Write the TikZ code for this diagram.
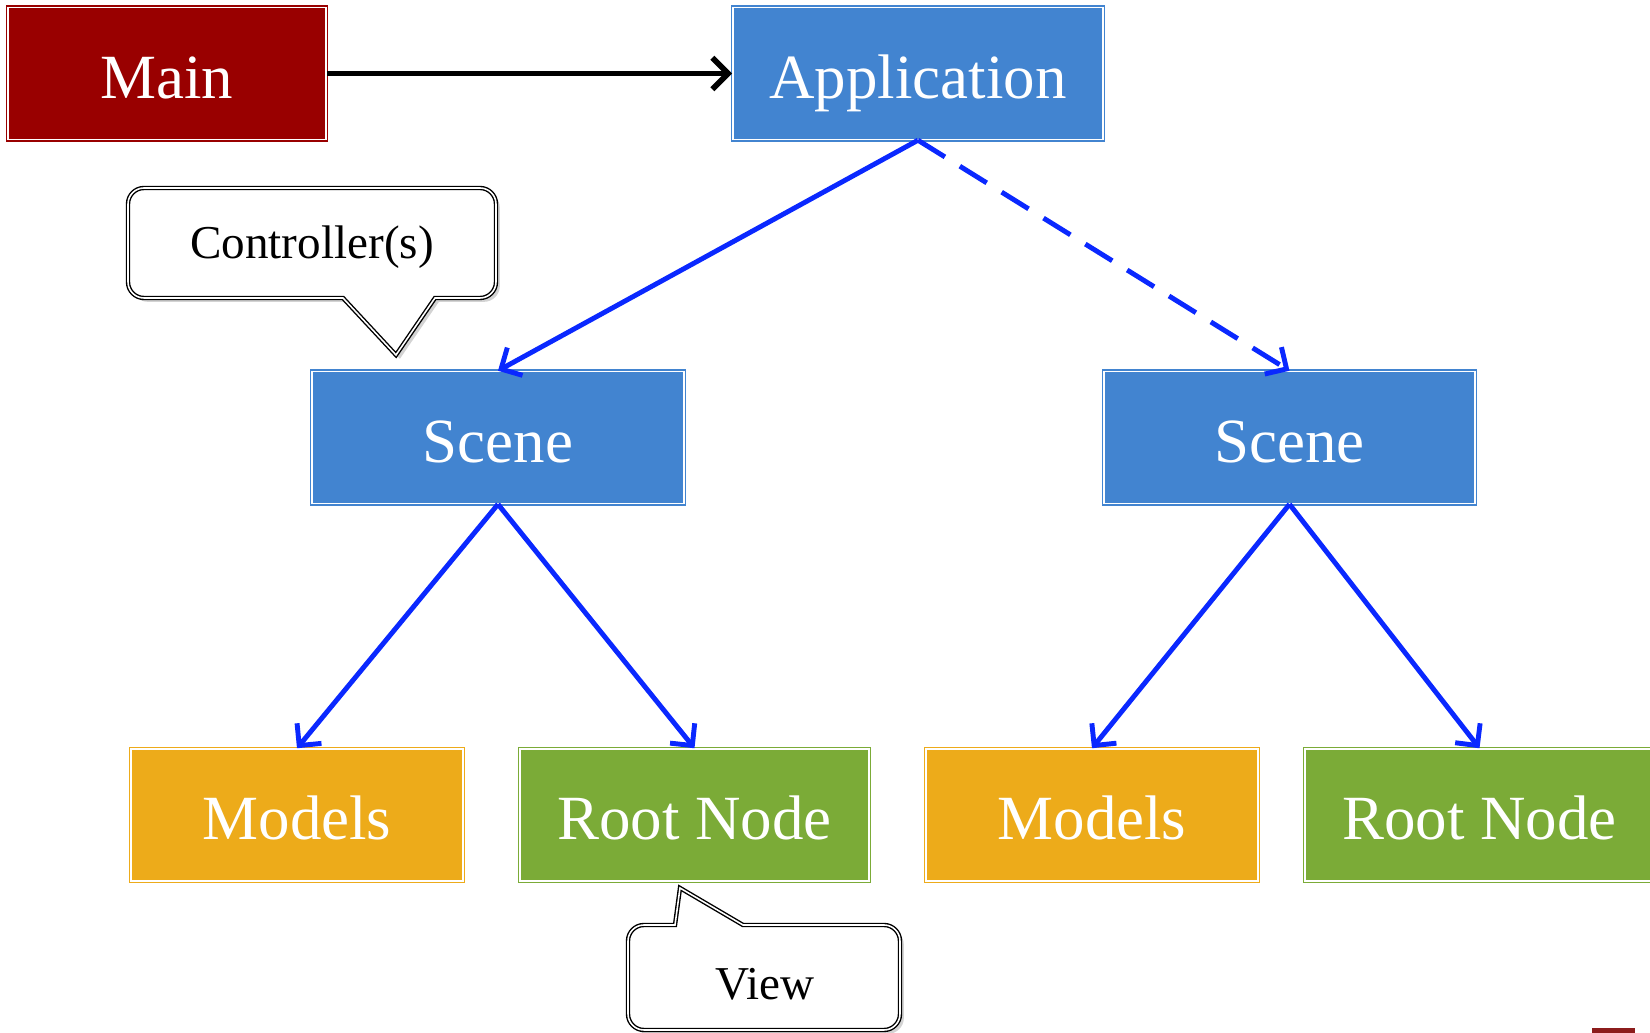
\documentclass[tikz,border=0pt]{standalone}
\usepackage{fontspec}
\setmainfont{Liberation Serif}
\usetikzlibrary{arrows.meta}
\usetikzlibrary{shadows}

\definecolor{mainred}{RGB}{153,0,0}
\definecolor{sceneblue}{RGB}{66,132,208}
\definecolor{modelorange}{RGB}{237,171,26}
\definecolor{rootgreen}{RGB}{123,171,55}
\definecolor{linkblue}{RGB}{10,40,255}
\definecolor{barred}{RGB}{140,28,28}

\tikzset{
	box/.style={rectangle, inner sep=0pt, minimum height=1.32cm, text=white,
		font=\fontsize{17.9pt}{20pt}\selectfont, text height=0.62cm, text depth=0.13cm,
		line width=0.4pt, double=white, double distance=0.4pt},
	mainbox/.style={box, fill=mainred, draw=mainred},
	scenebox/.style={box, fill=sceneblue, draw=sceneblue},
	modelbox/.style={box, fill=modelorange, draw=modelorange},
	rootbox/.style={box, fill=rootgreen, draw=rootgreen},
	flow/.style={line width=1.6pt, -{Straight Barb[length=4.5pt,width=9pt]}},
	link/.style={line width=1.4pt, draw=linkblue, -{Straight Barb[length=4.5pt,width=9pt]}},
	callout/.style={draw=black, fill=white, line width=0.4pt, double=white,
		double distance=0.45pt,
		drop shadow={shadow xshift=1.1pt, shadow yshift=-1.1pt, opacity=0.35}},
	calltext/.style={inner sep=0pt, font=\fontsize{13.4pt}{16pt}\selectfont}
}

\begin{document}
\begin{tikzpicture}[x=0.01cm, y=0.01cm]
	\useasboundingbox (0,0) rectangle (1650,1033);

	% draw callouts
	\draw[callout] (396,678) -- (435,735) [rounded corners=0.16cm] -- (496,735) -- (496,845)
		-- (128,845) -- (128,735) [sharp corners] -- (343,735) -- cycle;
	\draw[callout] (680,145) -- (743,108) [rounded corners=0.16cm] -- (900,108) -- (900,3)
		-- (628,3) -- (628,108) [sharp corners] -- (675,108) -- cycle;
	\node[calltext] (ctrl) at (312,786) {Controller(s)};
	\node[calltext] (view) at (765,49) {View};

	% draw boxes
	\node[mainbox, minimum width=3.18cm] (main) at (167,959.5) {Main};
	\node[scenebox, minimum width=3.70cm] (app) at (918,959.5) {Application};
	\node[scenebox, minimum width=3.72cm] (sceneL) at (498,595.5) {Scene};
	\node[scenebox, minimum width=3.71cm] (sceneR) at (1289.5,595.5) {Scene};
	\node[modelbox, minimum width=3.32cm] (modelsL) at (297,218) {Models};
	\node[rootbox, minimum width=3.49cm] (rootL) at (694.5,218) {Root Node};
	\node[modelbox, minimum width=3.32cm] (modelsR) at (1092,218) {Models};
	\node[rootbox, minimum width=3.49cm] (rootR) at (1479.5,218) {Root Node};

	% draw arrows
	\draw[flow] (main.east) -- (app.west);
	\draw[link] (app.south) -- (sceneL.north);
	\draw[link, dash pattern=on 9pt off 5pt] (app.south) -- (sceneR.north);
	\draw[link] (sceneL.south) -- (modelsL.north);
	\draw[link] (sceneL.south) -- (rootL.north);
	\draw[link] (sceneR.south) -- (modelsR.north);
	\draw[link] (sceneR.south) -- (rootR.north);

	%%%corner mark
	\fill[barred] (1592,0) rectangle (1635,5);
\end{tikzpicture}
\end{document}
